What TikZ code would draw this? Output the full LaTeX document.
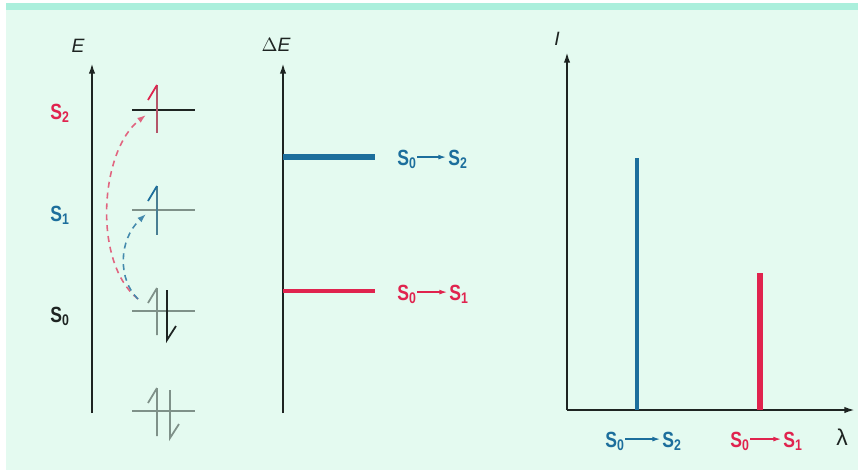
\documentclass[tikz,border=0pt]{standalone}
\usepackage{fontspec}
\setmainfont{Liberation Sans}
\newfontfamily\abslabfont[FakeStretch=0.8]{Liberation Sans Bold}
\usetikzlibrary{arrows.meta}
\definecolor{absMint}{HTML}{E4FAF0}
\definecolor{absBand}{HTML}{ABEFDC}
\definecolor{absBlue}{HTML}{1C6E9C}
\definecolor{absRed}{HTML}{E0234E}
\definecolor{absGray}{HTML}{7F9189}
\definecolor{absInk}{HTML}{1E2422}
\newcommand{\absst}[1]{S\textsubscript{#1}}
\tikzset{
  abs axis/.style={draw=absInk, line width=1.1pt, -{Latex[length=6pt,width=3.6pt]}},
  abs level/.style={draw=absGray, line width=1.1pt},
  abs spin/.style={line width=1pt},
  abs jump/.style={line width=0.9pt, dash pattern=on 3.4pt off 2.8pt, -{Latex[length=5pt,width=3.4pt]}},
  abs small arrow/.style={line width=0.8pt, shorten >=1pt, -{Latex[length=4.5pt,width=2.8pt]}},
  abs state/.style={font=\abslabfont\fontsize{12.5}{14}\selectfont, inner sep=0pt, anchor=base west},
  abs axis label/.style={font=\fontsize{11}{13}\selectfont\itshape, text=absInk},
}

\begin{document}
\begin{tikzpicture}[x=0.02cm, y=-0.02cm]
  \useasboundingbox (0,0) rectangle (858,474);
  % ----- background -----
  \fill[absMint] (6,3) rectangle (858,470);
  \fill[absBand] (6,3) rectangle (858,10);
  % ----- Panel A: energy levels -----
  \coordinate (ebot) at (92,413);
  \coordinate (etop) at (92,63);
  \draw[abs axis] (ebot) -- (etop);
  \node[abs axis label] (elab) at (78,46) {E};
  \node[abs state, text=absRed] (ls2) at (50,119) {\absst{2}};
  \node[abs state, text=absBlue] (ls1) at (50,221) {\absst{1}};
  \node[abs state, text=absInk] (ls0) at (50,322) {\absst{0}};
  % levels
  \draw[abs level, draw=absInk, line width=0.9pt] (132,110) -- (195,110);
  \draw[abs level] (132,210) -- (195,210);
  \draw[abs level] (132,311) -- (195,311);
  \draw[abs level] (132,411) -- (195,411);
  % electrons
  \draw[abs spin, draw=absRed!55!absGray] (157,85) -- (157,133);
  \draw[abs spin, draw=absRed] (157,85) -- ++(-9,15);
  \draw[abs spin, draw=absBlue!55!absGray] (157,186) -- (157,235);
  \draw[abs spin, draw=absBlue] (157,186) -- ++(-9,15);
  \draw[abs spin, draw=absGray] (157,288) -- (157,335) (157,288) -- ++(-9,15);
  \draw[abs spin, draw=absInk] (167,290) -- (167,340) -- ++(9,-14);
  \draw[abs spin, draw=absGray] (157,388) -- (157,436) (157,388) -- ++(-9,15);
  \draw[abs spin, draw=absGray] (170,390) -- (170,438) -- ++(9,-14);
  % excitations
  \coordinate (s0src) at (138,299);
  \coordinate (s2dst) at (146,115);
  \coordinate (s1dst) at (146,214);
  \draw[abs jump, draw=absRed!70!absMint] (s0src) .. controls (92,262) and (100,150) .. (s2dst);
  \draw[abs jump, draw=absBlue!80!absMint] (s0src) .. controls (118,280) and (118,240) .. (s1dst);
  % ----- Panel B: transition energies -----
  \coordinate (dbot) at (283,413);
  \coordinate (dtop) at (283,63);
  \draw[abs axis] (dbot) -- (dtop);
  \node[abs axis label] (dlab) at (276,45) {$\Delta$E};
  \draw[absBlue, line width=3.4pt] (283,157) -- (375,157);
  \draw[absRed, line width=2.4pt] (283,291) -- (375,291);
  \node[abs state, text=absBlue] (m20) at (397,165) {\absst{0}};
  \node[abs state, text=absBlue] (m22) at (448,165) {\absst{2}};
  \draw[abs small arrow, absBlue] ([yshift=4.5pt]m20.base east) -- ([yshift=4.5pt]m22.base west);
  \node[abs state, text=absRed] (m10) at (397,300) {\absst{0}};
  \node[abs state, text=absRed] (m11) at (449,300) {\absst{1}};
  \draw[abs small arrow, absRed] ([yshift=4.5pt]m10.base east) -- ([yshift=4.5pt]m11.base west);
  % ----- Panel C: spectrum -----
  \coordinate (origin) at (567,410);
  \coordinate (itop) at (567,52);
  \coordinate (lright) at (855,410);
  \draw[abs axis] (origin) -- (itop);
  \draw[abs axis] (origin) -- (lright);
  \node[abs axis label] (ilab) at (557,39) {I};
  \node[abs axis label, font=\fontsize{13}{15}\selectfont] (llab) at (842,437) {λ};
  \draw[absBlue, line width=2.6pt] (637,410) -- (637,158);
  \draw[absRed, line width=3.4pt] (760,410) -- (760,273);
  \node[abs state, text=absBlue] (r20) at (605,447) {\absst{0}};
  \node[abs state, text=absBlue] (r22) at (662,447) {\absst{2}};
  \draw[abs small arrow, absBlue] ([yshift=4.5pt]r20.base east) -- ([yshift=4.5pt]r22.base west);
  \node[abs state, text=absRed] (r10) at (730,447) {\absst{0}};
  \node[abs state, text=absRed] (r11) at (783,447) {\absst{1}};
  \draw[abs small arrow, absRed] ([yshift=4.5pt]r10.base east) -- ([yshift=4.5pt]r11.base west);
\end{tikzpicture}
\end{document}
